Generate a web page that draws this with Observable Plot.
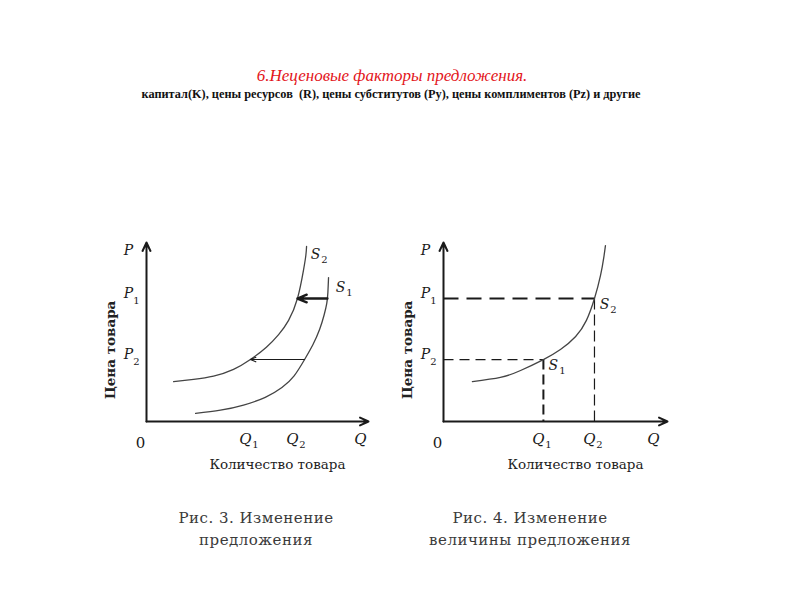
<!DOCTYPE html>
<html>
<head>
<meta charset="utf-8">
<script src="https://cdn.jsdelivr.net/npm/d3@7"></script>
<script src="https://cdn.jsdelivr.net/npm/@observablehq/plot@0.6"></script>
<style>
  html, body { margin: 0; padding: 0; background: #fff; }
  #page { position: relative; width: 800px; height: 600px; overflow: hidden; background: #fff; }
  .abs { position: absolute; }
  #title { top: 66px; left: 0; width: 784px; text-align: center; font: italic 17px "Liberation Serif", serif; line-height: 20px; color: #e3151b; }
  #subtitle { top: 88px; left: 0; width: 782px; text-align: center; font: bold 12.3px "Liberation Serif", serif; line-height: 13px; color: #111; }
  .cap { width: 300px; text-align: center; font: 15px "DejaVu Serif", serif; letter-spacing: 0.5px; line-height: 22px; color: #3a3a3a; top: 507px; }
  g[aria-label="xlabel"] text { letter-spacing: 0.7px; }
  g[aria-label="ylabel"] text { letter-spacing: 0.6px; }
</style>
</head>
<body>
<div id="page">
  <div id="title" class="abs">6.Неценовые факторы предложения.</div>
  <div id="subtitle" class="abs">капитал(K), цены ресурсов&nbsp; (R), цены субститутов (Py), цены комплиментов (Pz) и другие</div>
  <div id="left" class="abs" style="left:90px;top:230px"></div>
  <div id="right" class="abs" style="left:390px;top:230px"></div>
  <div class="abs cap" style="left:106px">Рис. 3. Изменение<br>предложения</div>
  <div class="abs cap" style="left:380px">Рис. 4. Изменение<br>величины предложения</div>
</div>
<script>
// ---- Data ----
// Left panel (Рис. 3): two supply curves
const leftS2 = [
  {q: 1.22, p: 2.23}, {q: 2.12, p: 2.35}, {q: 3.02, p: 2.53}, {q: 3.92, p: 2.91},
  {q: 4.68, p: 3.46}, {q: 5.40, p: 4.15}, {q: 5.95, p: 4.85}, {q: 6.40, p: 5.65},
  {q: 6.80, p: 6.87}, {q: 7.07, p: 8.44}, {q: 7.18, p: 9.30}, {q: 7.21, p: 9.78}
];
const leftS1 = [
  {q: 2.21, p: 0.45}, {q: 3.33, p: 0.63}, {q: 4.37, p: 0.92}, {q: 5.35, p: 1.35},
  {q: 6.10, p: 1.90}, {q: 6.65, p: 2.55}, {q: 7.12, p: 3.46}, {q: 7.50, p: 4.30},
  {q: 7.80, p: 5.15}, {q: 8.00, p: 5.95}, {q: 8.12, p: 6.60}, {q: 8.17, p: 7.20},
  {q: 8.20, p: 8.04}
];
const leftShifts = [
  {p: 6.87, from: 8.15, to: 6.80, level: "P1"},
  {p: 3.46, from: 7.12, to: 4.68, level: "P2"}
];
const leftPTop = [{name: "P", p: 10}];
const leftP = [{name: "P", sub: "1", p: 6.87}, {name: "P", sub: "2", p: 3.46}];
const leftQ = [{name: "Q", sub: "1", q: 4.68}, {name: "Q", sub: "2", q: 6.80}];
const leftS = [{name: "S", sub: "2", q: 7.21, p: 9.78}, {name: "S", sub: "1", q: 8.20, p: 8.04}];

// Right panel (Рис. 4): one supply curve, movement along it
const rightS = [
  {q: 1.29, p: 2.23}, {q: 2.54, p: 2.46}, {q: 3.44, p: 2.85}, {q: 4.46, p: 3.46},
  {q: 5.22, p: 4.02}, {q: 5.90, p: 4.75}, {q: 6.38, p: 5.65}, {q: 6.74, p: 6.87},
  {q: 7.01, p: 8.16}, {q: 7.16, p: 9.20}, {q: 7.23, p: 9.83}
];
const rightPoints = [
  {name: "S", sub: "1", q: 4.46, p: 3.46},
  {name: "S", sub: "2", q: 6.74, p: 6.87}
];
const rightPTop = [{name: "P", p: 10}];
const rightP = [{name: "P", sub: "1", p: 6.87}, {name: "P", sub: "2", p: 3.46}];
const rightQ = [{name: "Q", sub: "1", q: 4.46}, {name: "Q", sub: "2", q: 6.74}];

const axisLabelX = "Количество товара";
const axisLabelY = "Цена товара";

// ---- Helpers ----
const serif = "DejaVu Serif";
const ink = "#1a1a1a";
const curveInk = "#444";
const curveType = "natural";

function axes(xEndLabelDx) {
  return [
    Plot.arrow([{x1: 0, y1: 0, x2: 0, y2: 10}], {x1: "x1", y1: "y1", x2: "x2", y2: "y2", stroke: ink, strokeWidth: 2, headLength: 7, headAngle: 50}),
    Plot.arrow([{x1: 0, y1: 0, x2: 10, y2: 0}], {x1: "x1", y1: "y1", x2: "x2", y2: "y2", stroke: ink, strokeWidth: 2, headLength: 7, headAngle: 50}),
    Plot.text(["0"], {x: 0, y: 0, text: d => d, dx: -6, dy: 22, fontSize: 15, fontFamily: serif, fill: ink}),
    Plot.text(["Q"], {x: 10, y: 0, text: d => d, dx: xEndLabelDx, dy: 18, fontSize: 15, fontStyle: "italic", fontFamily: serif, fill: ink}),
    Plot.text([axisLabelX], {frameAnchor: "bottom", text: d => d, dx: 20, dy: 47, fontSize: 13.5, fontFamily: serif, fill: "#222", ariaLabel: "xlabel"}),
    Plot.text([axisLabelY], {frameAnchor: "left", textAnchor: "middle", text: d => d, rotate: -90, dx: -36, dy: 18, fontSize: 13.5, fontWeight: "bold", fontFamily: serif, fill: "#222", ariaLabel: "ylabel"})
  ];
}

function pLabels(top, data) {
  return [
    Plot.text(top, {x: 0, y: "p", text: "name", dx: -18, dy: 8, fontSize: 14, fontStyle: "italic", fontFamily: serif, fill: ink}),
    Plot.text(data, {x: 0, y: "p", text: "name", dx: -18, dy: -5, fontSize: 14, fontStyle: "italic", fontFamily: serif, fill: ink}),
    Plot.text(data, {x: 0, y: "p", text: "sub", dx: -10, dy: 2, fontSize: 10, fontFamily: serif, fill: ink})
  ];
}

function qLabels(data) {
  return [
    Plot.text(data, {x: "q", y: 0, text: "name", dx: -5, dy: 18, fontSize: 15, fontStyle: "italic", fontFamily: serif, fill: ink}),
    Plot.text(data, {x: "q", y: 0, text: "sub", dx: 5, dy: 23, fontSize: 10, fontFamily: serif, fill: ink})
  ];
}

function sLabels(data, dx, dy) {
  return [
    Plot.text(data, {x: "q", y: "p", text: "name", dx: dx, dy: dy, fontSize: 14, fontStyle: "italic", fontFamily: serif, fill: ink}),
    Plot.text(data, {x: "q", y: "p", text: "sub", dx: dx + 9, dy: dy + 5, fontSize: 10, fontFamily: serif, fill: ink})
  ];
}

const common = {
  width: 300, height: 260,
  marginTop: 12, marginBottom: 69,
  x: {domain: [0, 10], axis: null},
  y: {domain: [0, 10], axis: null},
  style: {background: "transparent", fontFamily: serif, overflow: "visible"}
};

// ---- Left chart ----
const left = Plot.plot({
  ...common,
  marginLeft: 56, marginRight: 22,
  marks: [
    ...axes(-8),
    Plot.line(leftS2, {x: "q", y: "p", curve: curveType, stroke: curveInk, strokeWidth: 1.3}),
    Plot.line(leftS1, {x: "q", y: "p", curve: curveType, stroke: curveInk, strokeWidth: 1.3}),
    Plot.arrow(leftShifts.filter(d => d.level === "P1"), {x1: "from", x2: "to", y1: "p", y2: "p", stroke: ink, strokeWidth: 2.4, headLength: 7, headAngle: 45}),
    Plot.arrow(leftShifts.filter(d => d.level === "P2"), {x1: "from", x2: "to", y1: "p", y2: "p", stroke: ink, strokeWidth: 1.1, headLength: 8, headAngle: 45}),
    ...pLabels(leftPTop, leftP),
    ...qLabels(leftQ),
    ...sLabels(leftS.slice(0, 1), 9, 8),
    ...sLabels(leftS.slice(1), 12, 10)
  ]
});
document.getElementById("left").appendChild(left);

// ---- Right chart ----
const [r1, r2] = rightPoints;
const right = Plot.plot({
  ...common,
  marginLeft: 53, marginRight: 23,
  marks: [
    Plot.link([r2], {x1: 0, y1: "p", x2: "q", y2: "p", stroke: ink, strokeWidth: 2, strokeDasharray: "15,8"}),
    Plot.link([r1], {x1: 0, y1: "p", x2: "q", y2: "p", stroke: ink, strokeWidth: 1.2, strokeDasharray: "10,6"}),
    Plot.link([r1], {x1: "q", y1: "p", x2: "q", y2: 0, stroke: ink, strokeWidth: 2, strokeDasharray: "10,5"}),
    Plot.link([r2], {x1: "q", y1: "p", x2: "q", y2: 0, stroke: ink, strokeWidth: 1.2, strokeDasharray: "11,5"}),
    ...axes(-14),
    Plot.line(rightS, {x: "q", y: "p", curve: curveType, stroke: curveInk, strokeWidth: 1.3}),
    ...pLabels(rightPTop, rightP),
    ...qLabels(rightQ),
    ...sLabels(rightPoints, 10, 6)
  ]
});
document.getElementById("right").appendChild(right);
</script>
</body>
</html>
